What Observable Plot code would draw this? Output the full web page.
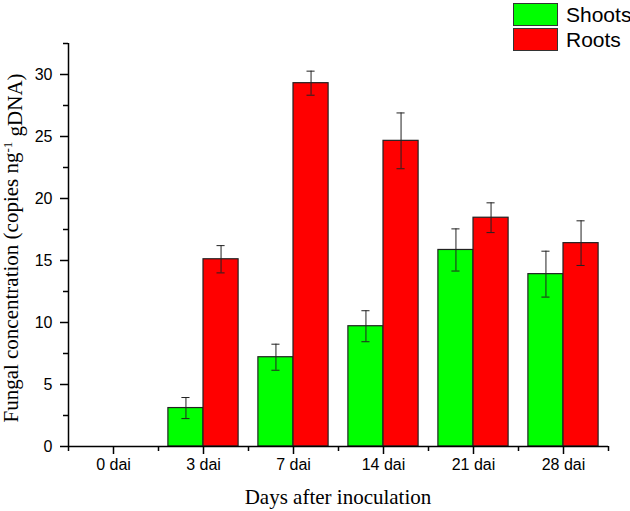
<!DOCTYPE html>
<html>
<head>
<meta charset="utf-8">
<script src="https://cdn.jsdelivr.net/npm/d3@7"></script>
<script src="https://cdn.jsdelivr.net/npm/@observablehq/plot@0.6"></script>
<style>
  html, body { margin: 0; padding: 0; background: #fff; }
  #chart { position: relative; width: 630px; height: 511px; }
  .legend { position: absolute; left: 513px; top: 2px; font-family: "Liberation Sans", Arial, sans-serif; font-size: 21px; color: #000; }
  .legend .row { display: flex; align-items: center; height: 25px; }
  .legend .sw { width: 43px; height: 21px; border: 1px solid #333; margin-right: 8px; box-sizing: content-box; }
</style>
</head>
<body>
<div id="chart"></div>
<script>
// ---- data ----
const days = ["0 dai", "3 dai", "7 dai", "14 dai", "21 dai", "28 dai"];
const series = ["Shoots", "Roots"];
const colors = ["#00ff00", "#ff0000"];
const shoots = [0, 3.1, 7.2, 9.7, 15.85, 13.9];
const shootsErr = [0, 0.85, 1.05, 1.25, 1.7, 1.85];
const roots = [0, 15.1, 29.3, 24.65, 18.45, 16.4];
const rootsErr = [0, 1.1, 0.97, 2.25, 1.2, 1.8];
const yTicks = [0, 5, 10, 15, 20, 25, 30];
const yMinor = [2.5, 7.5, 12.5, 17.5, 22.5, 27.5, 32.5];

// ---- table ----
const bw = 0.39;      // bar width as a fraction of a category band
const capHalf = 0.045; // error cap half-width
const rows = [];
days.forEach((d, i) => {
  rows.push({day: d, i, series: "Shoots", value: shoots[i], err: shootsErr[i], x1: i - bw, x2: i});
  rows.push({day: d, i, series: "Roots", value: roots[i], err: rootsErr[i], x1: i, x2: i + bw});
});
const bars = rows.filter(r => r.value > 0).map(r => ({...r, xc: (r.x1 + r.x2) / 2, lo: r.value - r.err, hi: r.value + r.err}));
const caps = bars.flatMap(r => [
  {x1: r.xc - capHalf, x2: r.xc + capHalf, y: r.lo},
  {x1: r.xc - capHalf, x2: r.xc + capHalf, y: r.hi}
]);
const majorX = days.map((d, i) => i);
const minorX = d3.range(days.length + 1).map(k => k - 0.5);

const plot = Plot.plot({
  width: 630,
  height: 511,
  marginLeft: 68,
  marginRight: 22,
  marginTop: 43,
  marginBottom: 65,
  style: {fontFamily: "'Liberation Sans', Arial, sans-serif", fontSize: "16px", color: "#000", background: "#fff", overflow: "visible"},
  x: {domain: [-0.5, days.length - 0.5], axis: null},
  y: {domain: [0, 32.5], axis: null},
  color: {domain: series, range: colors},
  marks: [
    Plot.rectY(bars, {x1: "x1", x2: "x2", y1: 0, y2: "value", fill: "series", stroke: "#222", strokeWidth: 1.2}),
    Plot.ruleX(bars, {x: "xc", y1: "lo", y2: "hi", stroke: "#222", strokeWidth: 1}),
    Plot.ruleY(caps, {x1: "x1", x2: "x2", y: "y", stroke: "#222", strokeWidth: 1}),
    Plot.ruleY([0], {stroke: "#000", strokeWidth: 1.5}),
    Plot.ruleX([-0.5], {stroke: "#000", strokeWidth: 1.5}),
    Plot.axisX({ticks: majorX, tickFormat: i => days[i], tickSize: 8, tickPadding: 4, label: null, strokeWidth: 1.5, fontSize: 16}),
    Plot.axisX({ticks: minorX, tickFormat: () => "", tickSize: 5, label: null, strokeWidth: 1.5}),
    Plot.axisY({ticks: yTicks, tickSize: 8, tickPadding: 8, label: null, strokeWidth: 1.5, fontSize: 16}),
    Plot.axisY({ticks: yMinor.filter(v => v <= 32.5), tickFormat: () => "", tickSize: 5, label: null, strokeWidth: 1.5})
  ]
});

document.getElementById("chart").appendChild(plot);

// axis titles
const svg = d3.select(plot);
svg.append("text")
  .attr("x", 338).attr("y", 504)
  .attr("text-anchor", "middle")
  .style("font-family", "'Liberation Serif', 'Times New Roman', serif")
  .style("font-size", "21px")
  .attr("fill", "#000")
  .text("Days after inoculation");

const yt = svg.append("text")
  .attr("transform", "translate(18,248) rotate(-90)")
  .attr("text-anchor", "middle")
  .style("font-family", "'Liberation Serif', 'Times New Roman', serif")
  .style("font-size", "21px")
  .attr("fill", "#000");
yt.append("tspan").text("Fungal concentration (copies ng");
yt.append("tspan").attr("dy", "-0.5em").style("font-size", "13px").text("-1");
yt.append("tspan").attr("dy", "0.5em").text(" gDNA)");

// legend
const legend = d3.select("#chart").append("div").attr("class", "legend");
series.forEach((s, k) => {
  const row = legend.append("div").attr("class", "row");
  row.append("div").attr("class", "sw").style("background", colors[k]);
  row.append("span").text(s);
});
</script>
</body>
</html>
